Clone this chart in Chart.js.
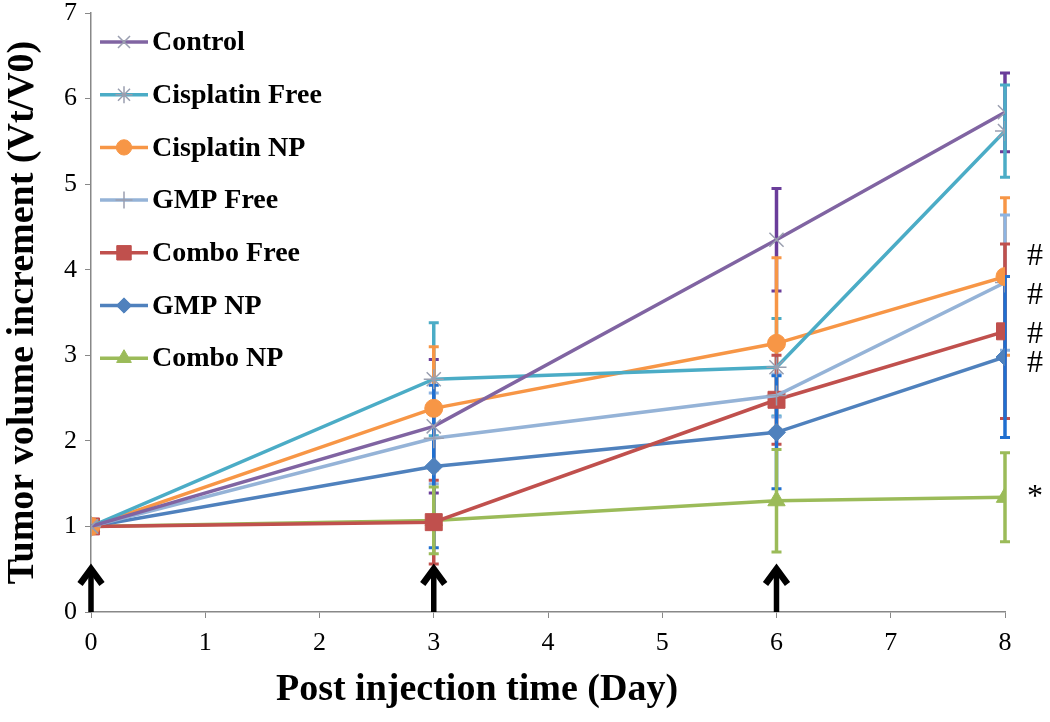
<!DOCTYPE html>
<html>
<head>
<meta charset="utf-8">
<script src="https://cdn.jsdelivr.net/npm/chart.js@4.4.0/dist/chart.umd.min.js"></script>
<style>
  body { margin: 0; background: #fff; }
  canvas { display: block; }
</style>
</head>
<body>
<canvas id="canvas" width="1050" height="722"></canvas>
<script>
// days after injection
const days = [0, 3, 6, 8];
const injectionDays = [0, 3, 6];

const control = [1, 2.17, 4.35, 5.84];
const controlErr = [0, 0.78, 0.6, 0.46];
const cisFree = [1, 2.72, 2.86, 5.62];
const cisFreeErr = [0, 0.66, 0.57, 0.54];
const cisNP = [1, 2.38, 3.14, 3.92];
const cisNPErr = [0, 0.72, 1.0, 0.92];
const gmpFree = [1, 2.03, 2.53, 3.85];
const gmpFreeErr = [0, 0.53, 0.25, 0.79];
const comboFree = [1, 1.05, 2.48, 3.28];
const comboFreeErr = [0, 0.49, 0.52, 1.02];
const gmpNP = [1, 1.70, 2.1, 2.98];
const gmpNPErr = [0, 0.95, 0.66, 0.94];
const comboNP = [1, 1.07, 1.3, 1.34];
const comboNPErr = [0, 0.39, 0.6, 0.52];

// significance marks shown right of day 8
const sigMarks = ['', '', '#', '#', '#', '#', '*'];

const serif = "'Liberation Serif', 'Times New Roman', serif";

function series(label, values, errors, color, errColor, style, radius) {
    const thin = (style === 'crossRot' || style === 'star' || style === 'cross');
    return {
        label: label,
        data: values.map((v, i) => ({ x: days[i], y: v })),
        errors: errors,
        errColor: errColor,
        borderColor: color,
        backgroundColor: color,
        borderWidth: 3.5,
        pointStyle: style,
        pointRadius: radius,
        pointHoverRadius: radius,
        pointBorderWidth: thin ? 1.5 : 1,
        pointBorderColor: thin ? '#9a9fb0' : color,
        tension: 0
    };
}

const errorBars = {
    id: 'errorBars',
    beforeDatasetsDraw(chart) {
        const ctx = chart.ctx;
        const xs = chart.scales.x, ys = chart.scales.y;
        ctx.save();
        chart.data.datasets.forEach(ds => {
            ds.data.forEach((p, i) => {
                const e = ds.errors[i];
                if (!e) return;
                const x = xs.getPixelForValue(p.x);
                const top = ys.getPixelForValue(p.y + e);
                const bot = ys.getPixelForValue(p.y - e);
                ctx.strokeStyle = ds.errColor;
                ctx.lineWidth = 3.5;
                ctx.beginPath();
                ctx.moveTo(x, top); ctx.lineTo(x, bot);
                ctx.stroke();
                ctx.lineWidth = 3;
                ctx.beginPath();
                ctx.moveTo(x - 5, top); ctx.lineTo(x + 5, top);
                ctx.moveTo(x - 5, bot); ctx.lineTo(x + 5, bot);
                ctx.stroke();
            });
        });
        ctx.restore();
    }
};

const extras = {
    id: 'extras',
    afterDraw(chart) {
        const ctx = chart.ctx;
        const xs = chart.scales.x, ys = chart.scales.y;
        const area = chart.chartArea;
        ctx.save();

        // injection arrows
        ctx.strokeStyle = '#000';
        injectionDays.forEach(d => {
            const x = xs.getPixelForValue(d);
            const base = ys.getPixelForValue(0);
            ctx.lineWidth = 5.5;
            ctx.lineCap = 'butt';
            ctx.beginPath();
            ctx.moveTo(x, base); ctx.lineTo(x, base - 44);
            ctx.stroke();
            ctx.lineWidth = 6.5;
            ctx.lineJoin = 'miter';
            ctx.beginPath();
            ctx.moveTo(x - 11, base - 28);
            ctx.lineTo(x, base - 43);
            ctx.lineTo(x + 11, base - 28);
            ctx.stroke();
        });

        // significance marks
        const nudges = [0, 0, -20, 13, 3, 7, 0];
        ctx.fillStyle = '#000';
        ctx.font = '32px ' + serif;
        ctx.textAlign = 'center';
        ctx.textBaseline = 'middle';
        chart.data.datasets.forEach((ds, i) => {
            if (!sigMarks[i]) return;
            const last = ds.data[ds.data.length - 1];
            const y = ys.getPixelForValue(last.y) + nudges[i];
            ctx.fillText(sigMarks[i], xs.getPixelForValue(last.x) + 30, y);
        });

        // legend
        ctx.font = 'bold 28px ' + serif;
        ctx.textAlign = 'left';
        chart.data.datasets.forEach((ds, i) => {
            const y = area.top + 29 + i * 52.7;
            ctx.strokeStyle = ds.borderColor;
            ctx.lineWidth = 3.5;
            ctx.beginPath();
            ctx.moveTo(area.left + 9, y); ctx.lineTo(area.left + 57, y);
            ctx.stroke();
            ctx.fillStyle = ds.backgroundColor;
            ctx.strokeStyle = ds.pointBorderColor;
            ctx.lineWidth = ds.pointBorderWidth;
            Chart.helpers.drawPoint(ctx, {
                pointStyle: ds.pointStyle,
                radius: ds.pointRadius * 0.85,
                rotation: 0,
                borderWidth: ds.pointBorderWidth
            }, area.left + 33, y);
            ctx.fillStyle = '#000';
            ctx.fillText(ds.label, area.left + 61, y + 1);
        });

        // x axis title
        ctx.font = 'bold 38px ' + serif;
        ctx.textAlign = 'center';
        ctx.fillText('Post injection time (Day)', area.left + 386, 690);
        ctx.restore();
    }
};

const ctx = document.getElementById('canvas').getContext('2d');
const myChart = new Chart(ctx, {
    type: 'line',
    data: {
        datasets: [
            series('Control', control, controlErr, '#8064A2', '#6a3d9a', 'crossRot', 10),
            series('Cisplatin Free', cisFree, cisFreeErr, '#4BACC6', '#4BACC6', 'star', 10),
            series('Cisplatin NP', cisNP, cisNPErr, '#F79646', '#F79646', 'circle', 9),
            series('GMP Free', gmpFree, gmpFreeErr, '#95B3D7', '#8db4e2', 'cross', 10),
            series('Combo Free', comboFree, comboFreeErr, '#C0504D', '#C0504D', 'rect', 12),
            series('GMP NP', gmpNP, gmpNPErr, '#4F81BD', '#1f6fd0', 'rectRot', 9),
            series('Combo NP', comboNP, comboNPErr, '#9BBB59', '#9BBB59', 'triangle', 10)
        ]
    },
    options: {
        responsive: false,
        animation: false,
        devicePixelRatio: 1,
        layout: { padding: { top: 8, right: 45, left: 0, bottom: 0 } },
        plugins: {
            legend: { display: false },
            tooltip: { enabled: false }
        },
        scales: {
            x: {
                type: 'linear',
                min: 0,
                max: 8,
                afterFit: s => { s.height = 110; s.paddingLeft = 0; s.paddingRight = 0; },
                ticks: { stepSize: 1, color: '#000', padding: 10, font: { family: serif, size: 26 } },
                grid: { drawOnChartArea: false, drawTicks: true, tickLength: 6, color: '#888' },
                border: { color: '#888', width: 1.5 }
            },
            y: {
                min: 0,
                max: 7,
                afterFit: s => { s.width = 91; s.paddingTop = 0; s.paddingBottom = 0; },
                ticks: { stepSize: 1, color: '#000', padding: 8, font: { family: serif, size: 26, lineHeight: 0.6 } },
                grid: { drawOnChartArea: false, drawTicks: true, tickLength: 6, color: '#888' },
                border: { color: '#888', width: 1.5 },
                title: {
                    display: true,
                    text: 'Tumor volume increment (Vt/V0)',
                    color: '#000',
                    padding: 0,
                    font: { family: serif, size: 38, weight: 'bold' }
                }
            }
        }
    },
    plugins: [errorBars, extras]
});
</script>
</body>
</html>
